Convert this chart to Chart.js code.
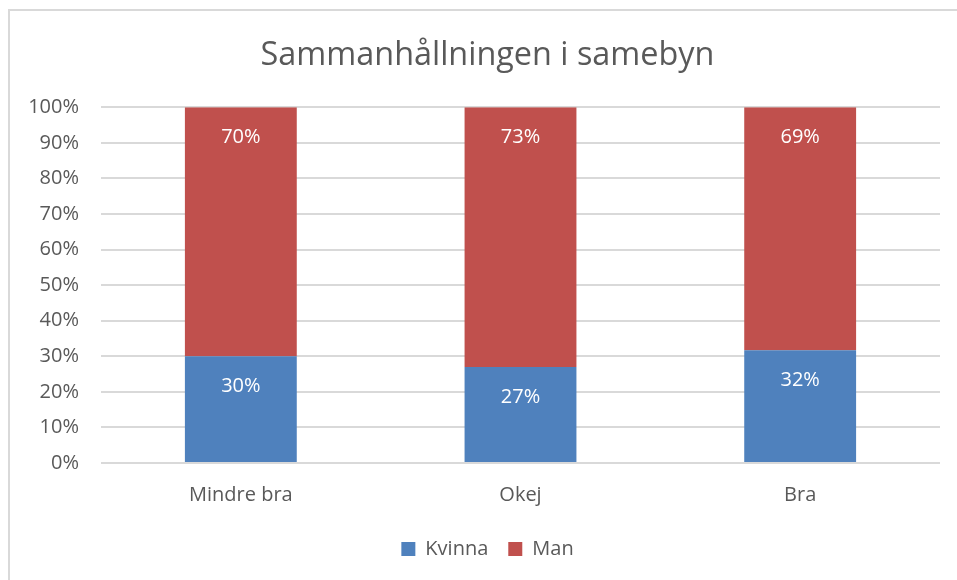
<!DOCTYPE html>
<html>
<head>
<meta charset="utf-8">
<script src="https://cdn.jsdelivr.net/npm/chart.js@4/dist/chart.umd.min.js"></script>
<style>
  html, body { margin: 0; padding: 0; background: #fff; overflow: hidden; }
  #frame { position: absolute; left: 8px; top: 9px; width: 980px; height: 600px; border: 2px solid #d9d9d9; }
  #wrap { position: absolute; left: 0; top: 0; width: 975px; height: 580px; }
</style>
</head>
<body>
<div id="frame"></div>
<div id="wrap"><canvas id="chart" width="975" height="580"></canvas></div>
<script>
const categories = ["Mindre bra", "Okej", "Bra"];
const kvinna = [30, 27, 32];
const man = [70, 73, 69];
const yTicks = [0, 10, 20, 30, 40, 50, 60, 70, 80, 90, 100];

const FONT = "'Open Sans', 'Noto Sans', sans-serif";
const TEXT = "#595959";

// 100% stacked: each bar is the share of the category total
function share(values, i) {
    return values[i] / (kvinna[i] + man[i]) * 100;
}

const dataLabels = {
    id: "dataLabels",
    afterDatasetsDraw(chart) {
        const ctx = chart.ctx;
        ctx.save();
        ctx.fillStyle = "#ffffff";
        ctx.font = "20px " + FONT;
        ctx.textAlign = "center";
        ctx.textBaseline = "middle";
        chart.data.datasets.forEach((ds, di) => {
            chart.getDatasetMeta(di).data.forEach((bar, i) => {
                ctx.fillText(ds.raw[i] + "%", bar.x, bar.y + 30);
            });
        });
        ctx.restore();
    }
};

new Chart(document.getElementById("chart"), {
    type: "bar",
    data: {
        labels: categories,
        datasets: [
            { label: "Kvinna", raw: kvinna, data: kvinna.map((v, i) => share(kvinna, i)), backgroundColor: "#4f81bd", barPercentage: 0.8, categoryPercentage: 0.5 },
            { label: "Man", raw: man, data: man.map((v, i) => share(man, i)), backgroundColor: "#c0504d", barPercentage: 0.8, categoryPercentage: 0.5 }
        ]
    },
    options: {
        responsive: false,
        animation: false,
        layout: { padding: { left: 0, right: 0, top: 0, bottom: 11 } },
        plugins: {
            title: {
                display: true,
                text: "Sammanhållningen i samebyn",
                color: TEXT,
                font: { family: FONT, size: 32.4, weight: "normal" },
                padding: { top: 36, bottom: 32.4 }
            },
            legend: {
                position: "bottom",
                labels: {
                    color: TEXT,
                    font: { family: FONT, size: 20 },
                    boxWidth: 14,
                    boxHeight: 14,
                    padding: 20
                }
            },
            tooltip: { enabled: false }
        },
        scales: {
            x: {
                stacked: true,
                grid: { display: false },
                border: { display: false },
                ticks: { color: TEXT, font: { family: FONT, size: 20 }, padding: 12 },
                afterFit(scale) { scale.height = 56; }
            },
            y: {
                stacked: true,
                min: 0,
                max: 100,
                afterBuildTicks(scale) { scale.ticks = yTicks.map(v => ({ value: v })); },
                grid: { color: "#d9d9d9", lineWidth: 2, drawTicks: false },
                border: { display: false },
                ticks: {
                    color: TEXT,
                    font: { family: FONT, size: 20 },
                    padding: 22,
                    callback: v => v + "%"
                },
                afterFit(scale) { scale.width = 101; }
            },
            // empty space on the right so the title and legend stay centred on the frame
            spacer: {
                type: "linear",
                position: "right",
                grid: { display: false },
                border: { display: false },
                ticks: { display: false },
                afterFit(scale) { scale.width = 35; }
            }
        }
    },
    plugins: [dataLabels]
});
</script>
</body>
</html>
